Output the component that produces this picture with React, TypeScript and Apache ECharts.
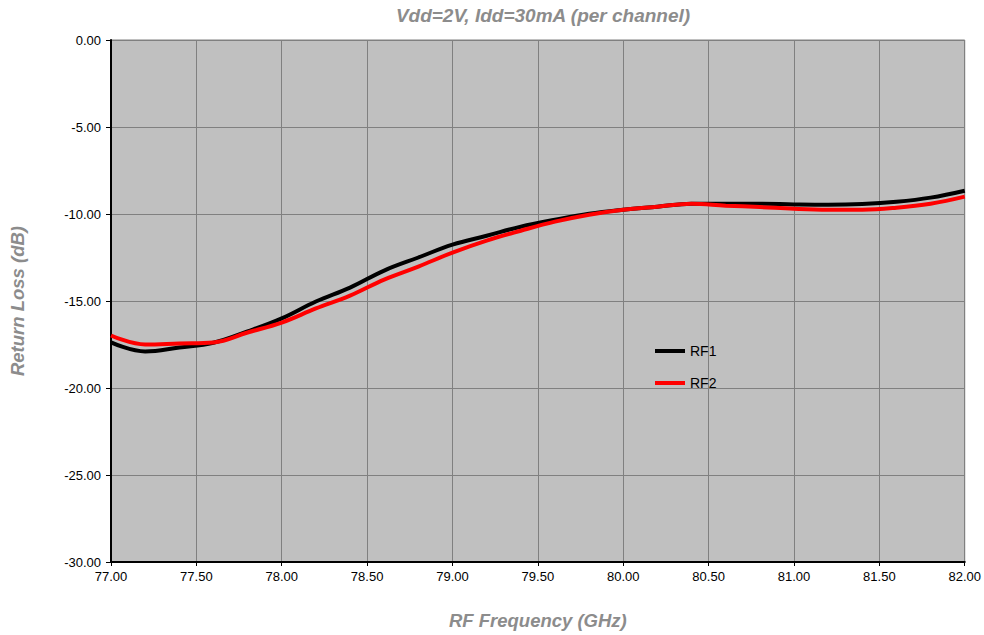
import React, { useEffect, useRef } from "react";
import * as echarts from "echarts";

const freq = [77.0, 77.2, 77.4, 77.6, 77.8, 78.0, 78.2, 78.4, 78.6, 78.8, 79.0, 79.2, 79.4, 79.6, 79.8, 80.0, 80.2, 80.4, 80.6, 80.8, 81.0, 81.2, 81.4, 81.6, 81.8, 82.0];
const rf1 = [-17.38, -17.9, -17.67, -17.4, -16.75, -16.0, -15.03, -14.23, -13.25, -12.5, -11.76, -11.25, -10.73, -10.33, -9.98, -9.75, -9.58, -9.41, -9.41, -9.41, -9.45, -9.47, -9.43, -9.3, -9.06, -8.66];
const rf2 = [-16.98, -17.5, -17.44, -17.38, -16.81, -16.24, -15.43, -14.69, -13.77, -13.02, -12.22, -11.53, -10.96, -10.44, -10.04, -9.75, -9.58, -9.41, -9.52, -9.6, -9.7, -9.75, -9.75, -9.64, -9.41, -9.0];

const title = "Vdd=2V, Idd=30mA (per channel)";
const xName = "RF Frequency (GHz)";
const yName = "Return Loss (dB)";

export default function App() {
  const ref = useRef<HTMLDivElement>(null);
  useEffect(() => {
    const chart = echarts.init(ref.current!, null, { renderer: "svg" });
    const font = "Liberation Sans, Arial, sans-serif";
    const nameStyle = { fontFamily: font, fontSize: 18.5, fontWeight: "bold", fontStyle: "italic", color: "#8c8c8c" };
    chart.setOption({
      animation: false,
      backgroundColor: "#ffffff",
      title: {
        text: title,
        left: 538,
        textAlign: "center",
        top: 1,
        textStyle: { ...nameStyle, fontSize: 19 },
      },
      grid: {
        left: 111, right: 19, top: 40, bottom: 72,
        show: true, backgroundColor: "#c0c0c0", borderColor: "#808080", borderWidth: 1,
      },
      legend: {
        orient: "vertical",
        left: 655,
        top: 344,
        padding: 0,
        itemWidth: 30,
        itemHeight: 4,
        itemGap: 18,
        icon: "rect",
        textStyle: { fontFamily: font, fontSize: 14, color: "#000" },
        data: ["RF1", "RF2"],
      },
      xAxis: {
        type: "value", min: 77, max: 82, interval: 0.5,
        name: xName, nameLocation: "middle", nameGap: 49,
        nameTextStyle: nameStyle,
        axisLine: { show: true, onZero: false, lineStyle: { color: "#000", width: 2 } },
        axisTick: { show: true, length: 4, lineStyle: { color: "#000" } },
        axisLabel: { fontFamily: font, fontSize: 13, color: "#000", margin: 8, formatter: (v: number) => v.toFixed(2) },
        splitLine: { show: true, lineStyle: { color: "#808080", width: 1 } },
      },
      yAxis: {
        type: "value", min: -30, max: 0, interval: 5,
        name: yName, nameLocation: "middle", nameGap: 84, nameRotate: 90,
        nameTextStyle: nameStyle,
        axisLine: { show: true, onZero: false, lineStyle: { color: "#000", width: 2 } },
        axisTick: { show: true, length: 5, lineStyle: { color: "#000" } },
        axisLabel: { fontFamily: font, fontSize: 13, color: "#000", margin: 10, formatter: (v: number) => v.toFixed(2) },
        splitLine: { show: true, lineStyle: { color: "#808080", width: 1 } },
      },
      series: [
        {
          name: "RF1", type: "line", smooth: 0.4, showSymbol: false,
          lineStyle: { color: "#000000", width: 4 }, itemStyle: { color: "#000000" },
          data: freq.map((f, i) => [f, rf1[i]]),
        },
        {
          name: "RF2", type: "line", smooth: 0.4, showSymbol: false,
          lineStyle: { color: "#ff0000", width: 4 }, itemStyle: { color: "#ff0000" },
          data: freq.map((f, i) => [f, rf2[i]]),
        },
      ],
    });
    return () => chart.dispose();
  }, []);
  return <div ref={ref} style={{ position: "fixed", left: 0, top: 0, width: 984, height: 635 }} />;
}
